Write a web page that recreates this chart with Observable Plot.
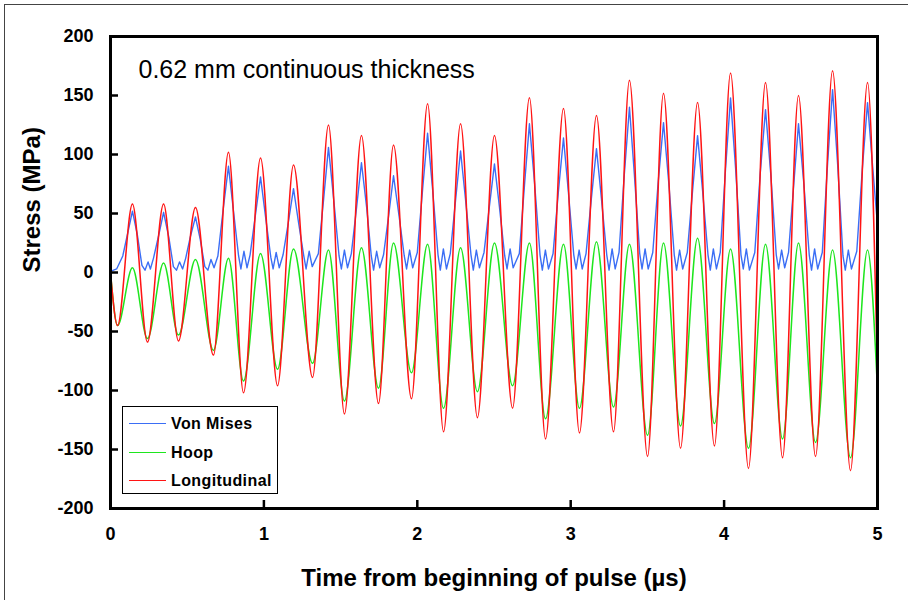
<!DOCTYPE html>
<html>
<head>
<meta charset="utf-8">
<script src="https://cdn.jsdelivr.net/npm/d3@7"></script>
<script src="https://cdn.jsdelivr.net/npm/@observablehq/plot@0.6"></script>
<style>
  html, body { margin: 0; padding: 0; background: #fff; }
  #wrap { position: relative; width: 908px; height: 600px; overflow: hidden; font-family: "Liberation Sans", Arial, sans-serif; }
  #border { position: absolute; left: 4px; top: 4px; width: 1000px; height: 1000px; border-top: 1px solid #444; border-left: 1px solid #444; }
  #legend { position: absolute; left: 122px; top: 406px; width: 154px; height: 86px; border: 1px solid #000; background: #fff; }
  .row { position: absolute; left: 0; height: 20px; }
  .sw { position: absolute; left: 6px; top: 9px; width: 37px; height: 0; border-top: 1.5px solid; }
  .lb { position: absolute; left: 48px; top: 0; font-size: 16px; font-weight: bold; line-height: 20px; white-space: nowrap; letter-spacing: 0.4px; }
</style>
</head>
<body>
<div id="wrap">
  <div id="chart"></div>
  <div id="border"></div>
  <div id="legend"></div>
</div>
<script>
// ---- data ----
const seriesNames = ["Von Mises", "Hoop", "Longitudinal"];
const seriesColors = ["#3b6ef5", "#1ee61e", "#ff1414"];

const xTicks = [0, 1, 2, 3, 4, 5];
const yTicks = [-200, -150, -100, -50, 0, 50, 100, 150, 200];

// times (µs) of the oscillation peaks and troughs
const peakT   = [0.143, 0.346, 0.554, 0.769, 0.978, 1.193, 1.421, 1.636, 1.845, 2.067, 2.282, 2.503, 2.731, 2.953, 3.168, 3.383, 3.605, 3.827, 4.042, 4.270, 4.485, 4.707, 4.935];
const troughT = [0.046, 0.241, 0.443, 0.671, 0.867, 1.089, 1.317, 1.525, 1.747, 1.962, 2.171, 2.392, 2.621, 2.836, 3.057, 3.279, 3.501, 3.716, 3.937, 4.159, 4.381, 4.596, 4.824];

// Longitudinal stress (MPa)
const longPeaks   = [58, 58, 55, 102, 97, 91, 125, 116, 108, 143, 126, 116, 148, 139, 133, 163, 152, 144, 169, 161, 150, 171, 161];
const longTroughs = [-45, -59, -58, -70, -102, -96, -89, -120, -111, -107, -135, -123, -115, -141, -136, -135, -156, -149, -147, -166, -157, -156, -168];
const longStart = 0, longEnd = -90;

// Hoop stress (MPa)
const hoopPeaks   = [4, 8, 11, 12, 16, 20, 19, 21, 25, 24, 21, 25, 25, 24, 26, 24, 25, 29, 20, 24, 25, 19, 19];
const hoopTroughs = [-45, -56, -53, -66, -92, -82, -77, -109, -98, -85, -115, -101, -96, -124, -115, -114, -138, -130, -128, -149, -141, -144, -157];
const hoopStart = 0, hoopEnd = -100;

// Von Mises stress (MPa), read point by point
const vmT = [0, 0.04, 0.08, 0.11, 0.143, 0.175, 0.205, 0.225, 0.245, 0.26, 0.28, 0.315, 0.346,
  0.38, 0.41, 0.43, 0.45, 0.47, 0.49, 0.52, 0.554,
  0.585, 0.615, 0.635, 0.655, 0.675, 0.70, 0.735, 0.769,
  0.80, 0.835, 0.85, 0.87, 0.89, 0.91, 0.945, 0.978,
  1.01, 1.045, 1.06, 1.08, 1.10, 1.125, 1.16, 1.193,
  1.225, 1.26, 1.275, 1.295, 1.315, 1.355, 1.39, 1.421,
  1.455, 1.49, 1.505, 1.525, 1.545, 1.57, 1.605, 1.636,
  1.67, 1.70, 1.715, 1.735, 1.755, 1.78, 1.815, 1.845,
  1.88, 1.915, 1.93, 1.95, 1.97, 2.0, 2.035, 2.067,
  2.10, 2.135, 2.15, 2.17, 2.19, 2.215, 2.25, 2.282,
  2.315, 2.35, 2.365, 2.385, 2.405, 2.435, 2.47, 2.503,
  2.535, 2.57, 2.585, 2.605, 2.625, 2.665, 2.70, 2.731,
  2.765, 2.80, 2.815, 2.835, 2.855, 2.885, 2.92, 2.953,
  2.985, 3.02, 3.035, 3.055, 3.075, 3.10, 3.135, 3.168,
  3.20, 3.235, 3.25, 3.27, 3.29, 3.315, 3.35, 3.383,
  3.415, 3.45, 3.465, 3.485, 3.505, 3.535, 3.57, 3.605,
  3.64, 3.675, 3.69, 3.71, 3.73, 3.76, 3.795, 3.827,
  3.86, 3.895, 3.91, 3.93, 3.95, 3.975, 4.01, 4.042,
  4.075, 4.11, 4.125, 4.145, 4.165, 4.20, 4.235, 4.270,
  4.305, 4.34, 4.355, 4.375, 4.395, 4.42, 4.455, 4.485,
  4.52, 4.555, 4.57, 4.59, 4.61, 4.64, 4.675, 4.707,
  4.74, 4.775, 4.79, 4.81, 4.83, 4.865, 4.90, 4.935,
  4.965, 5.0];
const vmV = [1, 3, 14, 32, 52, 32, 6, 2, 9, 3, 12, 32, 51,
  30, 5, 2, 9, 3, 12, 30, 47,
  28, 5, 2, 11, 4, 14, 54, 90,
  54, 14, 3, 18, 4, 15, 49, 81,
  48, 13, 3, 17, 4, 15, 43, 71,
  43, 14, 3, 18, 5, 16, 63, 106,
  62, 14, 3, 19, 4, 16, 56, 93,
  55, 14, 2, 18, 4, 15, 50, 82,
  49, 14, 3, 19, 4, 17, 71, 118,
  70, 15, 2, 20, 3, 16, 62, 103,
  61, 15, 2, 19, 4, 17, 56, 92,
  56, 14, 3, 20, 4, 16, 76, 126,
  75, 15, 2, 19, 3, 16, 69, 114,
  68, 15, 3, 19, 3, 16, 63, 105,
  63, 15, 2, 20, 3, 17, 84, 140,
  83, 16, 3, 20, 3, 17, 76, 127,
  75, 15, 2, 19, 3, 17, 70, 116,
  69, 15, 2, 20, 3, 17, 89, 148,
  88, 15, 3, 20, 2, 17, 83, 138,
  82, 15, 3, 19, 4, 17, 76, 126,
  75, 15, 2, 20, 3, 17, 93, 155,
  92, 14, 2, 19, 3, 18, 86, 144,
  95, 40];

// ---- build tables from the arrays ----
function oscillation(name, start, troughs, peaks, end) {
  const rows = [{series: name, t: 0, v: start}];
  for (let i = 0; i < peakT.length; i++) {
    rows.push({series: name, t: troughT[i], v: troughs[i]});
    rows.push({series: name, t: peakT[i], v: peaks[i]});
  }
  rows.push({series: name, t: 5, v: end});
  return rows;
}
const vmRows = vmT.map((t, i) => ({series: "Von Mises", t, v: vmV[i]}));
const hoopRows = oscillation("Hoop", hoopStart, hoopTroughs, hoopPeaks, hoopEnd);
const longRows = oscillation("Longitudinal", longStart, longTroughs, longPeaks, longEnd);

const font = "Liberation Sans, Arial, sans-serif";
const xDomain = [0, 5], yDomain = [-200, 200];
const plotW = 908, plotH = 600, mL = 110, mR = 31, mT = 36, mB = 92;
const tickPx = 8; // inward tick length in pixels
const xTickLen = tickPx * (xDomain[1] - xDomain[0]) / (plotW - mL - mR);
const yTickLen = tickPx * (yDomain[1] - yDomain[0]) / (plotH - mT - mB);

const chart = Plot.plot({
  width: plotW,
  height: plotH,
  marginLeft: mL,
  marginRight: mR,
  marginTop: mT,
  marginBottom: mB,
  style: {fontFamily: font, background: "transparent", color: "#000", overflow: "visible"},
  x: {domain: xDomain},
  y: {domain: yDomain},
  marks: [
    Plot.line(vmRows, {x: "t", y: "v", stroke: seriesColors[0], strokeWidth: 1.4}),
    Plot.line(hoopRows, {x: "t", y: "v", stroke: seriesColors[1], strokeWidth: 1.5, curve: "monotone-x"}),
    Plot.line(longRows, {x: "t", y: "v", stroke: seriesColors[2], strokeWidth: 1.5, curve: "monotone-x"}),
    // inward tick marks
    Plot.ruleY(yTicks, {y: d => d, x1: xDomain[0], x2: xDomain[0] + xTickLen, stroke: "#000", strokeWidth: 2.5}),
    Plot.ruleX(xTicks, {x: d => d, y1: yDomain[0], y2: yDomain[0] + yTickLen, stroke: "#000", strokeWidth: 2.5}),
    Plot.frame({stroke: "#000", strokeWidth: 3}),
    Plot.axisY(yTicks, {tickSize: 0, tickPadding: 17, fontSize: 18, fontWeight: "bold", tickFormat: d => String(d), label: null}),
    Plot.axisX(xTicks, {tickSize: 0, tickPadding: 19, fontSize: 18, fontWeight: "bold", tickFormat: d => String(d), label: null}),
    Plot.text(["0.62 mm continuous thickness"], {frameAnchor: "top-left", dx: 28, dy: 33, textAnchor: "start", lineAnchor: "middle", fontSize: 25, fill: "#000"}),
    Plot.text(["Time from beginning of pulse (µs)"], {frameAnchor: "bottom", dy: 70, lineAnchor: "middle", fontSize: 24, fontWeight: "bold", fill: "#000"}),
    Plot.text(["Stress (MPa)"], {frameAnchor: "left", dx: -78, rotate: -90, lineAnchor: "middle", fontSize: 24, fontWeight: "bold", fill: "#000"})
  ]
});
document.getElementById("chart").appendChild(chart);

// legend
const legend = document.getElementById("legend");
const rowTops = [7, 36, 64];
seriesNames.forEach((name, i) => {
  const row = document.createElement("div");
  row.className = "row";
  row.style.top = rowTops[i] + "px";
  row.innerHTML = `<div class="sw" style="border-color:${seriesColors[i]}"></div><div class="lb">${name}</div>`;
  legend.appendChild(row);
});
</script>
</body>
</html>
